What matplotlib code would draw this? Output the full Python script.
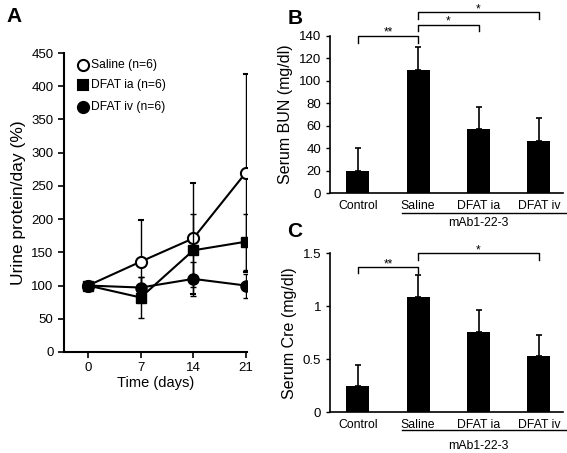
import numpy as np
import matplotlib
matplotlib.use("Agg")
import matplotlib.pyplot as plt

plt.rcParams['font.family'] = ['Liberation Sans', 'DejaVu Sans']

# panel A : urine protein
days = [0, 7, 14, 21]
saline = [100, 136, 171, 270]
saline_err = [0, 63, 84, 149]
dfat_ia = [100, 82, 153, 166]
dfat_ia_err = [0, 31, 55, 42]
dfat_iv = [100, 97, 110, 100]
dfat_iv_err = [0, 16, 26, 18]

# panel B / C
groups = ['Control', 'Saline', 'DFAT ia', 'DFAT iv']
bun = [20, 110, 57, 47]
bun_err = [20, 20, 20, 20]
cre = [0.25, 1.09, 0.76, 0.53]
cre_err = [0.20, 0.20, 0.20, 0.20]

fig = plt.figure(figsize=(5.67, 4.53), dpi=100)

# ---- A
axA = fig.add_axes([0.113, 0.223, 0.322, 0.660])
kw = dict(color='black', lw=1.5, capsize=2.5, elinewidth=1.0, capthick=1.0)
axA.errorbar(days, saline, yerr=saline_err, marker='o', ms=8, mfc='white', mec='black', mew=1.5, zorder=3, **kw)
axA.errorbar(days, dfat_ia, yerr=dfat_ia_err, marker='s', ms=7.5, mfc='black', mec='black', zorder=4, **kw)
axA.errorbar(days, dfat_iv, yerr=dfat_iv_err, marker='o', ms=8, mfc='black', mec='black', zorder=5, **kw)
axA.set_xlim(-3.2, 21.1)
axA.set_ylim(0, 450)
axA.set_xticks(days)
axA.set_yticks(range(0, 451, 50))
for s in ['top', 'right']:
    axA.spines[s].set_visible(False)
axA.spines['left'].set_linewidth(1.5)
axA.spines['bottom'].set_linewidth(1.5)
axA.tick_params(direction='out', length=4, width=1.2, labelsize=9.5)
axA.set_xlabel('Time (days)', fontsize=10.5, labelpad=1)
axA.set_ylabel('Urine protein/day (%)', fontsize=12.5, labelpad=4)

# legend by hand
leg_items = [('o', 'white', 'Saline (n=6)', 432),
             ('s', 'black', 'DFAT ia (n=6)', 402),
             ('o', 'black', 'DFAT iv (n=6)', 369)]
for m, fc, lab, yy in leg_items:
    axA.plot([-0.7], [yy], marker=m, ms=8 if m == 'o' else 7, mfc=fc, mec='black', mew=1.5, clip_on=False)
    axA.text(0.45, yy, lab, fontsize=8.7, va='center', ha='left')

fig.text(0.012, 0.985, 'A', fontsize=15, fontweight='bold', va='top')


def bar_panel(ax, vals, errs, ymax, yticks, ylabel, brackets, ytlabels, line_y, text_y):
    x = np.arange(len(groups))
    ax.bar(x, vals, width=0.38, color='black', zorder=2)
    ax.errorbar(x, vals, yerr=[np.zeros(len(errs)), errs], fmt='none', ecolor='black',
                elinewidth=1.2, capsize=2.5, capthick=1.2, zorder=1)
    ax.set_xlim(-0.46, 3.4)
    ax.set_ylim(0, ymax)
    ax.set_yticks(yticks)
    ax.set_yticklabels(ytlabels)
    ax.set_xticks(x)
    ax.set_xticklabels(groups)
    for s in ['top', 'right']:
        ax.spines[s].set_visible(False)
    ax.spines['left'].set_linewidth(1.2)
    ax.spines['bottom'].set_linewidth(1.2)
    ax.tick_params(axis='y', direction='out', length=3, width=1.0, labelsize=9.5)
    ax.tick_params(axis='x', length=0, labelsize=8.8, pad=5)
    ax.set_ylabel(ylabel, fontsize=11.5, labelpad=4)
    for i0, i1, yb, tip, star in brackets:
        ax.plot([i0, i0, i1, i1], [yb - tip, yb, yb, yb - tip], color='black', lw=1.0, clip_on=False)
        ax.text((i0 + i1) / 2, yb, star, ha='center', va='baseline', fontsize=8.5)
    # group line under Saline..DFAT iv
    ax.plot([0.73, 3.45], [line_y, line_y], color='black', lw=1.0,
            transform=ax.get_xaxis_transform(), clip_on=False)
    ax.text(2.0, text_y, 'mAb1-22-3', transform=ax.get_xaxis_transform(), ha='center', va='center', fontsize=8.8)


axB = fig.add_axes([0.582, 0.573, 0.411, 0.348])
bar_panel(axB, bun, bun_err, 140, range(0, 141, 20), 'Serum BUN (mg/dl)',
          [(0, 1, 140, 6, '**'), (1, 2, 150, 6, '*'), (1, 3, 161, 6, '*')],
          [str(v) for v in range(0, 141, 20)], -0.127, -0.185)
fig.text(0.507, 0.98, 'B', fontsize=15, fontweight='bold', va='top')

axC = fig.add_axes([0.582, 0.090, 0.411, 0.351])
bar_panel(axC, cre, cre_err, 1.5, [0, 0.5, 1, 1.5], 'Serum Cre (mg/dl)',
          [(0, 1, 1.37, 0.055, '**'), (1, 3, 1.50, 0.065, '*')],
          ['0', '0.5', '1', '1.5'], -0.11, -0.215)
fig.text(0.507, 0.51, 'C', fontsize=15, fontweight='bold', va='top')

fig.savefig('out.png', dpi=100)
